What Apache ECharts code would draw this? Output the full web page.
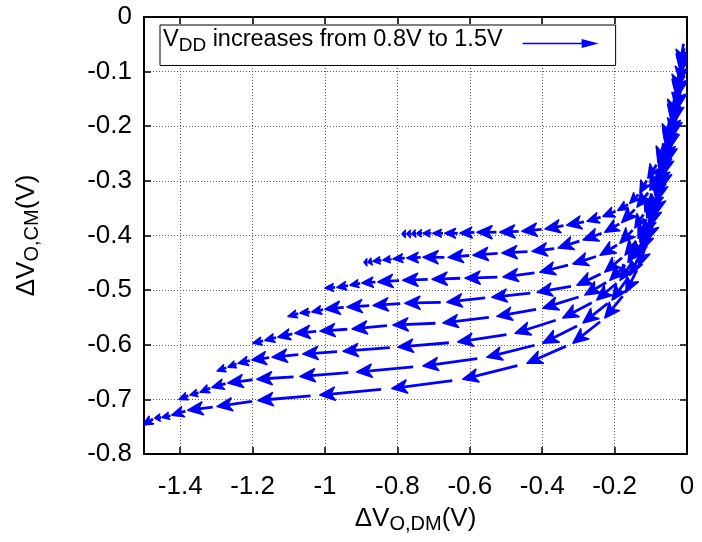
<!DOCTYPE html>
<html><head><meta charset="utf-8">
<script src="https://cdn.jsdelivr.net/npm/echarts@6/dist/echarts.min.js"></script>
<style>html,body{margin:0;padding:0;background:#fff}#c{width:702px;height:542px}</style>
</head><body><div id="c"></div>
<script>
// Trajectory points (ΔV_O,DM, ΔV_O,CM); consecutive points are joined by arrows
const row1X = [-0.008,-0.019,-0.030,-0.044,-0.061,-0.080,-0.108,-0.130,-0.158,-0.191,-0.232,-0.276,-0.332,-0.392,-0.456,-0.517,-0.580,-0.627,-0.669,-0.702,-0.729,-0.746,-0.760,-0.774,-0.787];
const row1Y = [-0.042,-0.088,-0.134,-0.180,-0.225,-0.266,-0.295,-0.322,-0.341,-0.354,-0.365,-0.374,-0.381,-0.388,-0.392,-0.394,-0.394,-0.396,-0.396,-0.396,-0.396,-0.396,-0.397,-0.397,-0.397];
const row2X = [-0.006,-0.017,-0.028,-0.041,-0.058,-0.077,-0.102,-0.138,-0.180,-0.227,-0.287,-0.356,-0.428,-0.511,-0.591,-0.660,-0.729,-0.774,-0.812,-0.840,-0.867,-0.881,-0.892];
const row2Y = [-0.050,-0.097,-0.145,-0.192,-0.240,-0.280,-0.317,-0.348,-0.376,-0.394,-0.408,-0.423,-0.429,-0.432,-0.436,-0.440,-0.440,-0.441,-0.443,-0.445,-0.447,-0.449,-0.449];
const row3X = [-0.008,-0.019,-0.030,-0.044,-0.058,-0.075,-0.094,-0.116,-0.144,-0.185,-0.240,-0.315,-0.406,-0.508,-0.613,-0.704,-0.785,-0.854,-0.898,-0.931,-0.967,-1.000];
const row3Y = [-0.053,-0.097,-0.143,-0.189,-0.234,-0.277,-0.317,-0.357,-0.386,-0.414,-0.436,-0.452,-0.467,-0.476,-0.478,-0.480,-0.482,-0.485,-0.487,-0.491,-0.495,-0.496];
const row4X = [-0.006,-0.017,-0.028,-0.041,-0.055,-0.072,-0.088,-0.111,-0.135,-0.171,-0.227,-0.304,-0.414,-0.539,-0.663,-0.779,-0.867,-0.939,-1.000,-1.036,-1.069,-1.102];
const row4Y = [-0.057,-0.101,-0.148,-0.194,-0.240,-0.284,-0.328,-0.368,-0.405,-0.436,-0.467,-0.491,-0.504,-0.513,-0.522,-0.524,-0.528,-0.531,-0.535,-0.540,-0.542,-0.548];
const row5X = [-0.008,-0.017,-0.028,-0.039,-0.053,-0.069,-0.086,-0.105,-0.130,-0.163,-0.213,-0.282,-0.398,-0.525,-0.674,-0.812,-0.925,-1.014,-1.083,-1.130,-1.166,-1.199];
const row5Y = [-0.060,-0.097,-0.145,-0.192,-0.238,-0.284,-0.330,-0.372,-0.412,-0.449,-0.482,-0.509,-0.533,-0.548,-0.560,-0.564,-0.571,-0.575,-0.579,-0.586,-0.592,-0.597];
const row6X = [-0.011,-0.019,-0.030,-0.044,-0.058,-0.075,-0.094,-0.116,-0.144,-0.185,-0.249,-0.343,-0.475,-0.633,-0.798,-0.950,-1.061,-1.146,-1.202,-1.240,-1.268,-1.298];
const row6Y = [-0.071,-0.119,-0.167,-0.214,-0.262,-0.308,-0.354,-0.399,-0.441,-0.482,-0.518,-0.551,-0.579,-0.595,-0.604,-0.612,-0.617,-0.623,-0.628,-0.634,-0.641,-0.648];
const row7X = [-0.011,-0.022,-0.033,-0.047,-0.064,-0.080,-0.099,-0.124,-0.158,-0.207,-0.287,-0.398,-0.553,-0.729,-0.912,-1.069,-1.188,-1.268,-1.312,-1.345,-1.373,-1.403];
const row7Y = [-0.090,-0.141,-0.191,-0.240,-0.288,-0.335,-0.381,-0.427,-0.473,-0.518,-0.560,-0.597,-0.623,-0.639,-0.650,-0.658,-0.663,-0.670,-0.678,-0.687,-0.692,-0.700];
const row8X = [-0.014,-0.025,-0.039,-0.053,-0.069,-0.086,-0.108,-0.133,-0.169,-0.227,-0.315,-0.442,-0.619,-0.815,-1.014,-1.185,-1.298,-1.379,-1.423,-1.450,-1.470,-1.503];
const row8Y = [-0.115,-0.167,-0.218,-0.266,-0.313,-0.361,-0.408,-0.456,-0.504,-0.551,-0.597,-0.634,-0.663,-0.680,-0.692,-0.702,-0.713,-0.720,-0.729,-0.733,-0.734,-0.747];

const xTickValues = [-1.4, -1.2, -1, -0.8, -0.6, -0.4, -0.2, 0];
const yTickValues = [0, -0.1, -0.2, -0.3, -0.4, -0.5, -0.6, -0.7, -0.8];
const legendName = 'VDD increases from 0.8V to 1.5V';

const rows = [[row1X,row1Y],[row2X,row2Y],[row3X,row3Y],[row4X,row4Y],[row5X,row5Y],[row6X,row6Y],[row7X,row7Y],[row8X,row8Y]];
const segments = [];
rows.forEach(([xs, ys]) => {
  for (let i = 0; i < xs.length - 1; i++) segments.push([xs[i], ys[i], xs[i+1], ys[i+1]]);
});

const FONT = 'Liberation Sans';
const FS = 26;      // tick labels & axis titles
const FSUB = 20;
const LFS = 23.5;   // key text
const BLUE = '#0000ff';

function renderArrow(params, api) {
  const a = api.coord([api.value(0), api.value(1)]);
  const b = api.coord([api.value(2), api.value(3)]);
  const dx = b[0] - a[0], dy = b[1] - a[1];
  const len = Math.hypot(dx, dy);
  if (len < 0.5) return null;
  const ux = dx / len, uy = dy / len;
  const trim = 0.15 * len;
  const t = [a[0] + ux * trim, a[1] + uy * trim];
  const hl = Math.min(15, 0.7 * len);
  const hw = Math.max(3.5, Math.min(6.5, hl * 0.45));
  const bx = b[0] - ux * hl, by = b[1] - uy * hl;
  const nx = b[0] - ux * hl * 0.72, ny = b[1] - uy * hl * 0.72;
  const p1 = [bx - uy * hw, by + ux * hw], p2 = [bx + uy * hw, by - ux * hw];
  return {
    type: 'group',
    children: [
      { type: 'line', shape: { x1: t[0], y1: t[1], x2: nx, y2: ny }, style: { stroke: BLUE, lineWidth: 2.8 } },
      { type: 'polygon', shape: { points: [b, p1, [nx, ny], p2] }, style: { fill: BLUE, stroke: BLUE, lineWidth: 1.6, lineJoin: 'round' } }
    ]
  };
}

const fmt = v => {
  const r = Math.round(v * 1000) / 1000;
  return r === 0 ? '0' : String(r);
};

const axisCommon = {
  axisLine: { show: true, onZero: false, lineStyle: { color: '#000', width: 2 } },
  axisTick: { show: true, inside: true, length: 7, lineStyle: { color: '#000', width: 1.5 } }
};
const gridLine = { show: true, lineStyle: { color: '#606060', width: 1, type: [1, 2] } };
const nameRich = {
  n: { fontSize: FS, fontFamily: FONT, color: '#000' },
  s: { fontSize: FSUB, fontFamily: FONT, color: '#000', padding: [10, 0, 0, 0] }
};

const option = {
  animation: false,
  color: [BLUE],
  textStyle: { fontFamily: FONT },
  grid: { left: 144, right: 15, top: 17, bottom: 88, containLabel: false },
  legend: {
    data: [legendName],
    left: 160, top: 25,
    orient: 'horizontal',
    align: 'right',
    padding: [3, 17, 10, 3],
    borderColor: '#000', borderWidth: 1,
    backgroundColor: '#fff',
    itemWidth: 76, itemHeight: 16,
    icon: 'path://M0,-7L0.2,-7L0.2,-6.8Z M0,3.7L59,3.7L59,0L76,4.5L59,9L59,5.3L0,5.3Z',
    selectedMode: false,
    formatter: () => '{v|V}{s|DD}{v| increases from 0.8V to 1.5V}{g| }',
    textStyle: {
      color: '#000', fontFamily: FONT, fontSize: LFS,
      rich: {
        v: { fontSize: LFS, fontFamily: FONT, color: '#000' },
        s: { fontSize: 19, fontFamily: FONT, color: '#000', padding: [12, 0, 0, 0] },
        g: { width: 15 }
      }
    }
  },
  xAxis: [
    Object.assign({}, axisCommon, {
      type: 'value', position: 'bottom', min: -1.5, max: 0,
      minInterval: 0.2, maxInterval: 0.2, splitNumber: 8,
      axisLabel: {
        color: '#000', fontSize: FS, fontFamily: FONT, margin: 20,
        showMinLabel: false,
        formatter: v => xTickValues.some(t => Math.abs(t - v) < 1e-6) ? fmt(v) : ''
      },
      splitLine: gridLine,
      name: '{n|ΔV}{s|O,DM}{n|(V)}',
      nameLocation: 'middle', nameGap: 50,
      nameTextStyle: { color: '#000', rich: nameRich }
    }),
    Object.assign({}, axisCommon, {
      type: 'value', position: 'top', min: -1.5, max: 0,
      minInterval: 0.2, maxInterval: 0.2, splitNumber: 8,
      axisLabel: { show: false }, splitLine: { show: false }
    })
  ],
  yAxis: [
    Object.assign({}, axisCommon, {
      type: 'value', position: 'left', min: -0.8, max: 0, interval: 0.1,
      axisLabel: {
        color: '#000', fontSize: FS, fontFamily: FONT, margin: 12,
        formatter: v => yTickValues.some(t => Math.abs(t - v) < 1e-6) ? fmt(v) : ''
      },
      splitLine: gridLine,
      name: '{n|ΔV}{s|O,CM}{n|(V)}',
      nameLocation: 'middle', nameGap: 102,
      nameTextStyle: { color: '#000', rich: nameRich }
    }),
    Object.assign({}, axisCommon, {
      type: 'value', position: 'right', min: -0.8, max: 0, interval: 0.1,
      axisLabel: { show: false }, splitLine: { show: false }
    })
  ],
  series: [{
    name: legendName,
    type: 'custom',
    coordinateSystem: 'cartesian2d',
    xAxisIndex: 0, yAxisIndex: 0,
    clip: true,
    itemStyle: { color: BLUE },
    renderItem: renderArrow,
    encode: { x: [0, 2], y: [1, 3] },
    data: segments
  }]
};

const chart = echarts.init(document.getElementById('c'), null, { renderer: 'canvas' });
chart.setOption(option);
</script>
</body></html>
